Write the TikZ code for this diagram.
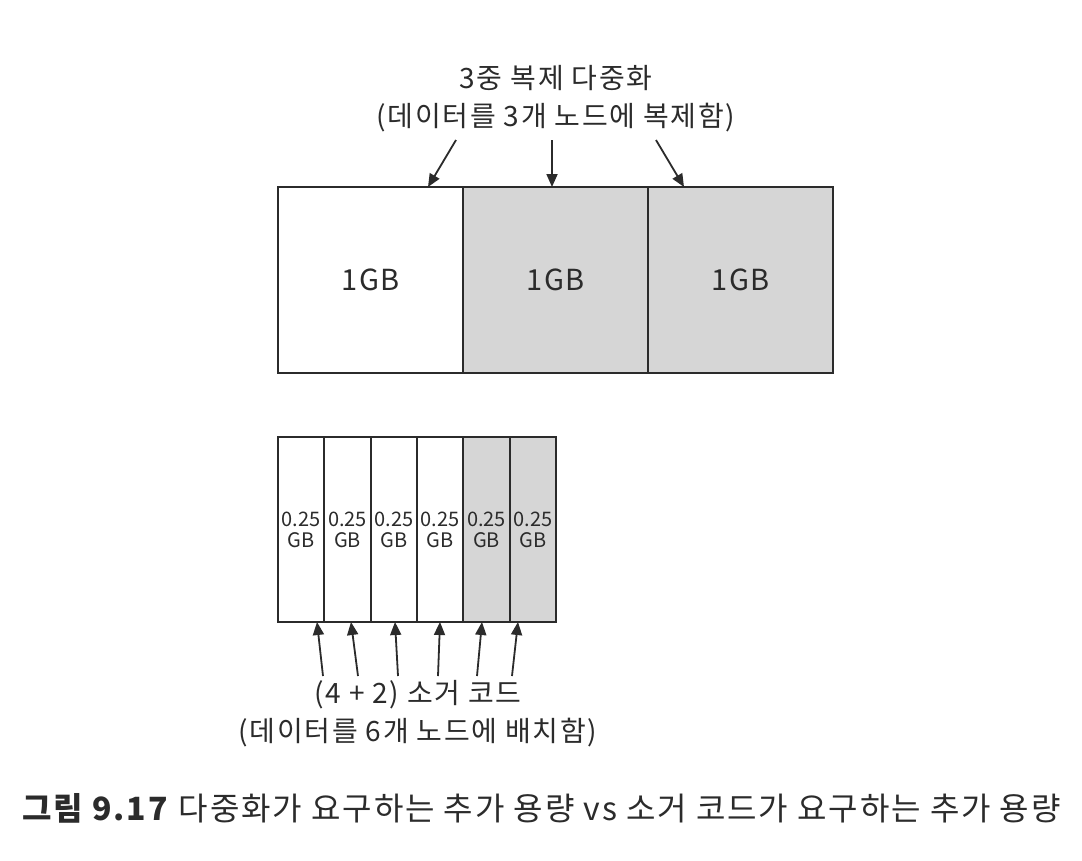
\documentclass[tikz,border=0pt]{standalone}
\usepackage{fontspec}
\setmainfont{Noto Sans CJK KR}[LetterSpace=6]
\usepackage{tikz}
\usetikzlibrary{arrows.meta}
\definecolor{ink}{HTML}{2B2B2B}
\definecolor{shade}{HTML}{D6D6D6}
\tikzset{
	blk/.style={draw=ink, line width=2pt, inner sep=0pt, outer sep=0pt, text=ink, font=\fontsize{29}{32}\selectfont},
	chunk/.style={blk, minimum width=46.33pt, minimum height=185pt, align=center, font=\fontsize{20}{21}\selectfont\addfontfeature{LetterSpace=0}},
	ptr/.style={draw=ink, line width=1.8pt, -{Triangle[length=13pt,width=11pt]}},
	lbl/.style={text=ink, inner sep=0pt, font=\fontsize{28}{38}\selectfont, align=center}
}

\begin{document}
\begin{tikzpicture}[x=1pt, y=-1pt]
		%%%%% START %%%%%
		\useasboundingbox[fill=white] (0, 0) rectangle (1082, 860);
		
		% replication
		\node[lbl] (rtxt) at (556, 99) {3중 복제 다중화\\(데이터를 3개 노드에 복제함)};
		\node[blk, minimum width=185pt, minimum height=186pt] (r1) at (370.5, 280) {1GB};
		\node[blk, fill=shade, minimum width=185pt, minimum height=186pt] (r2) at (555.5, 280) {1GB};
		\node[blk, fill=shade, minimum width=185pt, minimum height=186pt] (r3) at (740.5, 280) {1GB};
		
		\coordinate (ra) at (456, 140);
		\coordinate (rb) at (552, 140);
		\coordinate (rc) at (656, 140);
		\draw[ptr] (ra) -- (428, 187 |- r1.north);
		\draw[ptr] (rb) -- (552, 187 |- r2.north);
		\draw[ptr] (rc) -- (684, 187 |- r3.north);
		
		% erasure code
		\foreach \i/\f in {1/white, 2/white, 3/white, 4/white, 5/shade, 6/shade}
			\node[chunk, fill=\f] (e\i) at ({278 + 46.33*(\i - 0.5)}, 529.5) {0.25\\GB};
		
		\node[lbl] (etxt) at (418, 714) {(4 + 2) 소거 코드\\(데이터를 6개 노드에 배치함)};
		\foreach \i/\s/\t in {1/323/317, 2/358/351, 3/398/395, 4/438/440, 5/477/482, 6/512/518}{
			\coordinate (ea\i) at (\s, 676);
			\draw[ptr] (ea\i) -- (\t, 0 |- e\i.south);
		}
		
		% caption
		\node[anchor=west, inner sep=0pt, text=ink, font=\fontsize{32}{36}\selectfont] (cap) at (22, 808)
			{\textbf{그림 9.17} 다중화가 요구하는 추가 용량 vs 소거 코드가 요구하는 추가 용량};
		%%%%% END %%%%%
	\end{tikzpicture}
\end{document}
